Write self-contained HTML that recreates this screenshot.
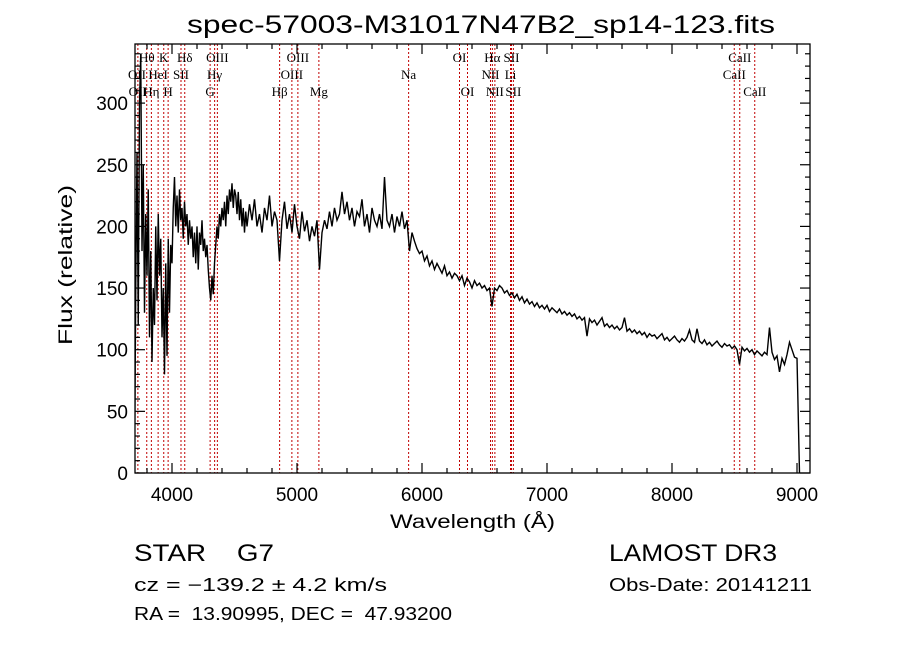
<!DOCTYPE html>
<html><head><meta charset="utf-8"><style>
html,body{margin:0;padding:0;background:#fff;}
svg{display:block;}
text{white-space:pre;}
</style></head><body>
<svg id="chart" width="900" height="649" viewBox="0 0 900 649" xmlns="http://www.w3.org/2000/svg" xml:space="preserve">
<rect width="900" height="649" fill="#fff"/>
<text x="187" y="33" font-family="Liberation Sans, sans-serif" font-size="25" textLength="588" lengthAdjust="spacingAndGlyphs">spec-57003-M31017N47B2_sp14-123.fits</text>
<defs><clipPath id="plotclip"><rect x="135" y="44" width="675" height="429"/></clipPath></defs>
<g id="lines"></g>
<g id="labels"></g>
<g clip-path="url(#plotclip)"><path id="spec" fill="none" stroke="#000" stroke-width="1.4"/></g>
<rect x="135" y="44" width="675" height="429" fill="none" stroke="#000" stroke-width="1.3"/>
<g id="ticks"></g>
<text x="390" y="528" font-family="Liberation Sans, sans-serif" font-size="19" textLength="165" lengthAdjust="spacingAndGlyphs">Wavelength (Å)</text>
<text transform="translate(72,345) rotate(-90)" font-family="Liberation Sans, sans-serif" font-size="19" textLength="160" lengthAdjust="spacingAndGlyphs">Flux (relative)</text>
<text x="134" y="561" font-family="Liberation Sans, sans-serif" font-size="24" textLength="140" lengthAdjust="spacingAndGlyphs">STAR    G7</text>
<text x="609" y="561" font-family="Liberation Sans, sans-serif" font-size="24" textLength="168" lengthAdjust="spacingAndGlyphs">LAMOST DR3</text>
<text x="134" y="591" font-family="Liberation Sans, sans-serif" font-size="18" textLength="253" lengthAdjust="spacingAndGlyphs">cz = −139.2 ± 4.2 km/s</text>
<text x="609" y="591" font-family="Liberation Sans, sans-serif" font-size="18" textLength="203" lengthAdjust="spacingAndGlyphs">Obs-Date: 20141211</text>
<text x="134" y="620" font-family="Liberation Sans, sans-serif" font-size="18" textLength="318" lengthAdjust="spacingAndGlyphs">RA =  13.90995, DEC =  47.93200</text>
</svg>
<script>
const blueFlux = [0,150,260,120,300,340,180,250,130,210,160,230,110,180,90,150,120,200,140,210,160,190,110,150,80,170,95,190,130,185,170,215,240,200,225,195,230,205,215,190,220,200,210,185,205,190,200,175,195,170,200,165,195,185,205,180,190,175,185,165,150,140,160,145,170,185,200,190,210,200,215,205,220,200,225,210,230,220,235,215,230,225,210,228,205,222,200,215,195,212,200];
const redFlux = [218,205,222,200,210,195,215,205,225,200,212,205,172,
205,220,198,210,195,218,200,190,212,196,205,188,200,192,205,
165,
195,205,198,212,200,215,205,210,228,
210,220,205,215,200,212,208,222,200,210,195,215,205,200,210,198,
240,
205,200,210,195,208,200,212,198,205,
180,
195,188,182,178,180,172,176,168,172,165,170,166,162,168,160,163,158,162,160,
156,160,152,158,155,150,156,152,154,150,152,148,150,135,
150,148,152,150,146,148,144,146,142,145,
140,143,138,141,137,139,135,138,134,136,133,136,131,134,132,130,133,129,
131,128,130,127,129,125,127,124,126,111,125,122,124,120,123,126,119,121,118,120,117,119,116,118,126,115,
117,114,116,113,115,112,114,110,113,111,112,109,111,113,108,110,107,109,111,108,106,109,107,110,116,108,106,117,107,105,108,104,106,103,105,107,104,102,105,103,
104,101,103,100,88,102,99,101,98,100,96,99,97,95,98,96,
118,
98,92,95,82,93,88,96,
106,100,94,93,0];
const blueStart = 3700, blueStep = 10;
const redStart = 4620, redStep = 20;
const lineWaves = [3727,3798,3835,3889,3934,3969,4072,4102,4305,4341,4363,4861,4959,5007,5175,5893,6300,6364,6548,6563,6583,6708,6716,6731,8498,8542,8662];
const labelNames = ["Hθ","K","Hδ","OIII","OIII","OI","Hα","SII","CaII","OII","HeI","SII","Hγ","OIII","Na","NII","Li","CaII","OII","Hη","H","G","Hβ","Mg","OI","NII","SII","CaII"];
const labelWaves = [3798,3934,4102,4363,5007,6300,6563,6716,8542,3720,3889,4072,4341,4959,5893,6548,6708,8498,3725,3835,3969,4305,4861,5175,6364,6583,6731,8662];
const labelRows = [0,0,0,0,0,0,0,0,0,1,1,1,1,1,1,1,1,1,2,2,2,2,2,2,2,2,2,2];
const xTicks = [4000,5000,6000,7000,8000,9000];
const yTicks = [0,50,100,150,200,250,300];

const NS = "http://www.w3.org/2000/svg";
const X0 = 134.5, XS = 0.125, Y0 = 473, YS = 1.233;
function xs(w){ return X0 + (w - 3700) * XS; }
function ys(v){ return Y0 - v * YS; }

let d = "";
blueFlux.forEach((v,i)=>{ const w = blueStart + i*blueStep; d += (i? "L":"M") + xs(w).toFixed(2) + "," + ys(v).toFixed(2); });
redFlux.forEach((v,i)=>{ const w = redStart + i*redStep; d += "L" + xs(w).toFixed(2) + "," + ys(v).toFixed(2); });
document.getElementById("spec").setAttribute("d", d);

const lg = document.getElementById("lines");
lineWaves.forEach(w=>{
  const l = document.createElementNS(NS,"line");
  
  
  l.setAttribute("x1", xs(w)); l.setAttribute("x2", xs(w));
  l.setAttribute("y1", 44); l.setAttribute("y2", 473);
  l.setAttribute("stroke", "#c00000"); l.setAttribute("stroke-width", "1");
  l.setAttribute("stroke-dasharray", "2,2");
  lg.appendChild(l);
});
const lb = document.getElementById("labels");
const rowY = [62, 79, 96];
labelNames.forEach((n,i)=>{
  const t = document.createElementNS(NS,"text");
  
  
  t.setAttribute("x", xs(labelWaves[i])); t.setAttribute("y", rowY[labelRows[i]]);
  t.setAttribute("text-anchor", "middle");
  t.setAttribute("font-family", "Liberation Serif, serif");
  t.setAttribute("font-size", "13");
  t.textContent = n;
  lb.appendChild(t);
});

const tg = document.getElementById("ticks");
function addLine(x1,y1,x2,y2){
  const l = document.createElementNS(NS,"line");
  
  
  l.setAttribute("x1",x1); l.setAttribute("y1",y1); l.setAttribute("x2",x2); l.setAttribute("y2",y2);
  l.setAttribute("stroke","#000"); l.setAttribute("stroke-width","1.2");
  tg.appendChild(l);
}
function addText(x,y,s,anchor,name){
  const t = document.createElementNS(NS,"text");
  
  
  t.setAttribute("x",x); t.setAttribute("y",y); t.setAttribute("text-anchor",anchor);
  t.setAttribute("font-family","Liberation Sans, sans-serif"); t.setAttribute("font-size","19");
  t.textContent = s;
  tg.appendChild(t);
}
for (let w = 3800; w <= 9100; w += 200) {
  const major = (w % 1000 === 0);
  const L = major ? 10 : 5;
  addLine(xs(w),473,xs(w),473-L);
  addLine(xs(w),44,xs(w),44+L);
}
xTicks.forEach(w=> addText(xs(w), 501, String(w), "middle", "x-tick-label"));
for (let v = 0; v <= 340; v += 10) {
  const major = (v % 50 === 0);
  const L = major ? 10 : 5;
  addLine(135,ys(v),135+L,ys(v));
  addLine(810,ys(v),810-L,ys(v));
}
yTicks.forEach(v=> addText(128, ys(v)+7, String(v), "end", "y-tick-label"));
</script>
</body></html>
